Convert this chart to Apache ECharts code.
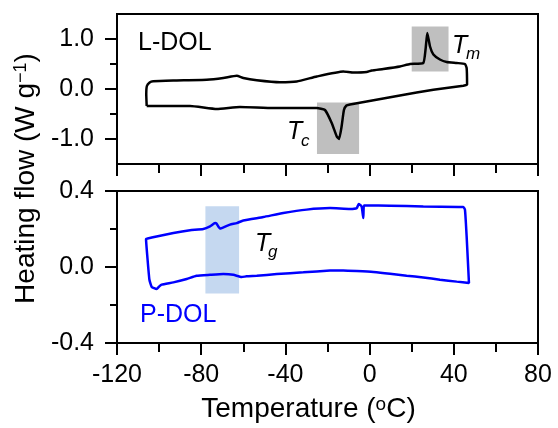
<!DOCTYPE html>
<html>
<head>
<meta charset="utf-8">
<script src="https://cdn.jsdelivr.net/npm/echarts@6/dist/echarts.min.js"></script>
<style>
  html, body { margin: 0; padding: 0; background: #ffffff; }
  #chart { width: 558px; height: 428px; }
</style>
</head>
<body>
<div id="chart"></div>
<script>
// Tick positions and labels
const tempTicks = [-120, -80, -40, 0, 40, 80];
const tempMinorTicks = [-100, -60, -20, 20, 60];
const ldolTicks = [-1, 0, 1];
const ldolMinorTicks = [-0.5, 0.5];
const pdolTicks = [-0.4, 0, 0.4];
const pdolMinorTicks = [-0.2, 0.2];

// L-DOL DSC loop: heating trace (upper), then cooling trace (lower)
const ldolTemp = [
  -105.9, -106.1, -105.8, -104.5, -102.8, -93.3, -77.4, -69.5, -63.1, -60.0,
  -53.6, -42.6, -34.6, -25.1, -12.5, -7.7, -1.4, 1.0, 6.5, 14.4,
  19.2, 25.5, 26.6, 27.4, 28.7, 30.3, 33.4, 36.6, 41.4, 45.3,
  46.1, 46.3, 44.5, 30.3, 14.4, -1.4, -9.3, -11.0, -12.2, -13.3,
  -14.5, -15.6, -18.0, -21.2, -25.1, -33.1, -45.7, -61.6, -72.6, -85.3,
  -105.9
];
const ldolFlow = [
  -0.34, -0.10, 0.06, 0.13, 0.155, 0.17, 0.185, 0.22, 0.265, 0.22,
  0.175, 0.135, 0.15, 0.25, 0.35, 0.33, 0.34, 0.37, 0.40, 0.45,
  0.50, 0.52, 0.80, 1.12, 0.85, 0.69, 0.59, 0.54, 0.52, 0.50,
  0.42, 0.09, 0.066, -0.015, -0.13, -0.25, -0.31, -0.33, -0.42, -0.75,
  -1.0, -0.95, -0.68, -0.42, -0.38, -0.38, -0.38, -0.36, -0.40, -0.34,
  -0.34
];

// P-DOL DSC loop: upper trace, then lower trace
const pdolTemp = [
  -105.9, -101.2, -93.2, -85.3, -79.0, -75.8, -73.4, -72.7, -71.1, -70.3,
  -66.3, -63.1, -60.0, -50.5, -41.0, -29.9, -18.8, -9.3, -6.1, -5.2,
  -3.8, -3.0, -2.7, -1.4, 9.7, 25.5, 42.2, 44.5, 45.3, 46.1,
  47.2, 41.4, 33.4, 25.5, 17.6, 9.7, 1.8, -6.1, -12.5, -18.8,
  -31.5, -44.1, -53.6, -58.4, -60.8, -64.7, -69.5, -75.8, -82.2, -86.9,
  -93.2, -98.8, -99.9, -101.2, -103.5, -104.6, -105.6, -106.2, -105.9
];
const pdolFlow = [
  0.149, 0.161, 0.179, 0.193, 0.200, 0.214, 0.231, 0.228, 0.202, 0.205,
  0.223, 0.231, 0.245, 0.263, 0.284, 0.302, 0.310, 0.305, 0.310, 0.331,
  0.319, 0.258, 0.324, 0.324, 0.323, 0.319, 0.316, 0.316, 0.302, 0.161,
  -0.084, -0.077, -0.067, -0.055, -0.046, -0.035, -0.026, -0.021, -0.018, -0.019,
  -0.028, -0.037, -0.046, -0.049, -0.053, -0.041, -0.037, -0.041, -0.046, -0.063,
  -0.081, -0.093, -0.102, -0.116, -0.105, -0.067, 0.056, 0.147, 0.149
];

// Shaded transition regions: [temperature, flow] corners
const meltRegion = [[20, 0.35], [37.5, 1.25]];
const crystRegion = [[-25, -0.27], [-5, -1.3]];
const glassRegion = [[-78, 0.32], [-62, -0.14]];

const FONT = '"Liberation Sans", Arial, Helvetica, sans-serif';
const zip = (xs, ys) => xs.map((x, i) => [x, ys[i]]);
const fmt = v => v.toFixed(1);

function xAxisPair(gridIndex, withLabels) {
  return [
    {
      type: 'value', gridIndex, min: -120, max: 80, position: 'bottom',
      axisLine: { show: true, onZero: false, lineStyle: { color: '#000', width: 2 } },
      axisTick: { show: true, customValues: tempTicks, length: 12, lineStyle: { color: '#000', width: 2 } },
      axisLabel: { show: withLabels, customValues: tempTicks, margin: 20, fontSize: 25, fontFamily: FONT, color: '#000' },
      splitLine: { show: false }
    },
    {
      type: 'value', gridIndex, min: -120, max: 80, position: 'bottom',
      axisLine: { show: false, onZero: false },
      axisTick: { show: true, customValues: tempMinorTicks, length: 9, lineStyle: { color: '#000', width: 2 } },
      axisLabel: { show: false },
      splitLine: { show: false }
    }
  ];
}

function yAxisPair(gridIndex, lo, hi, major, minor) {
  return [
    {
      type: 'value', gridIndex, min: lo, max: hi, position: 'left',
      axisLine: { show: true, onZero: false, lineStyle: { color: '#000', width: 2 } },
      axisTick: { show: true, customValues: major, length: 12, lineStyle: { color: '#000', width: 2 } },
      axisLabel: { show: true, customValues: major, formatter: fmt, margin: 23, fontSize: 25, fontFamily: FONT, color: '#000' },
      splitLine: { show: false }
    },
    {
      type: 'value', gridIndex, min: lo, max: hi, position: 'left',
      axisLine: { show: false, onZero: false },
      axisTick: { show: true, customValues: minor, length: 7, lineStyle: { color: '#000', width: 2 } },
      axisLabel: { show: false },
      splitLine: { show: false }
    }
  ];
}

const regionArea = (r) => [{ coord: r[0] }, { coord: r[1] }];

const chart = echarts.init(document.getElementById('chart'), null, { renderer: 'canvas' });
chart.setOption({
  animation: false,
  backgroundColor: '#ffffff',
  grid: [
    { left: 117, top: 14, width: 421, height: 150, show: true, borderColor: '#000', borderWidth: 2, containLabel: false },
    { left: 117, top: 191, width: 421, height: 152, show: true, borderColor: '#000', borderWidth: 2, containLabel: false }
  ],
  xAxis: [...xAxisPair(0, false), ...xAxisPair(1, true)],
  yAxis: [...yAxisPair(0, -1.5, 1.5, ldolTicks, ldolMinorTicks), ...yAxisPair(1, -0.4, 0.4, pdolTicks, pdolMinorTicks)],
  series: [
    {
      type: 'line', xAxisIndex: 0, yAxisIndex: 0, data: [], z: 1, silent: true,
      markArea: {
        silent: true,
        itemStyle: { color: '#bfbfbf', opacity: 1 },
        data: [regionArea(meltRegion), regionArea(crystRegion)]
      }
    },
    {
      name: 'L-DOL', type: 'line', xAxisIndex: 0, yAxisIndex: 0, z: 3,
      data: zip(ldolTemp, ldolFlow), showSymbol: false, smooth: 0.15,
      lineStyle: { color: '#000', width: 2.5 }
    },
    {
      type: 'line', xAxisIndex: 2, yAxisIndex: 2, data: [], z: 1, silent: true,
      markArea: {
        silent: true,
        itemStyle: { color: '#c5d8f0', opacity: 1 },
        data: [regionArea(glassRegion)]
      }
    },
    {
      name: 'P-DOL', type: 'line', xAxisIndex: 2, yAxisIndex: 2, z: 3,
      data: zip(pdolTemp, pdolFlow), showSymbol: false, smooth: 0.15,
      lineStyle: { color: '#0000ff', width: 2.5 }
    }
  ],
  graphic: [
    { type: 'text', x: 138, y: 43, style: { text: 'L-DOL', fontSize: 25, fontFamily: FONT, fill: '#000', align: 'left', verticalAlign: 'middle' } },
    { type: 'text', x: 140, y: 315, style: { text: 'P-DOL', fontSize: 25, fontFamily: FONT, fill: '#0000ff', align: 'left', verticalAlign: 'middle' } },
    { type: 'text', x: 452, y: 46, style: { text: 'T', fontSize: 25, fontStyle: 'italic', fontFamily: FONT, fill: '#000', align: 'left', verticalAlign: 'middle' } },
    { type: 'text', x: 466, y: 54, style: { text: 'm', fontSize: 17, fontStyle: 'italic', fontFamily: FONT, fill: '#000', align: 'left', verticalAlign: 'middle' } },
    { type: 'text', x: 287, y: 132, style: { text: 'T', fontSize: 25, fontStyle: 'italic', fontFamily: FONT, fill: '#000', align: 'left', verticalAlign: 'middle' } },
    { type: 'text', x: 301, y: 141, style: { text: 'c', fontSize: 17, fontStyle: 'italic', fontFamily: FONT, fill: '#000', align: 'left', verticalAlign: 'middle' } },
    { type: 'text', x: 255, y: 244, style: { text: 'T', fontSize: 25, fontStyle: 'italic', fontFamily: FONT, fill: '#000', align: 'left', verticalAlign: 'middle' } },
    { type: 'text', x: 268, y: 252, style: { text: 'g', fontSize: 17, fontStyle: 'italic', fontFamily: FONT, fill: '#000', align: 'left', verticalAlign: 'middle' } },
    {
      type: 'text', x: 308.5, y: 409,
      style: {
        text: 'Temperature ({sup|o}C)', fontSize: 28, lineHeight: 28, fontFamily: FONT, fill: '#000',
        align: 'center', verticalAlign: 'middle',
        rich: { sup: { fontSize: 19, lineHeight: 13, verticalAlign: 'top', fontFamily: FONT, fill: '#000' } }
      }
    },
    {
      type: 'text', x: 26.5, y: 178.5, rotation: Math.PI / 2,
      style: {
        text: 'Heating flow (W g{sup|\u22121})', fontSize: 28, lineHeight: 28, fontFamily: FONT, fill: '#000',
        align: 'center', verticalAlign: 'middle',
        rich: { sup: { fontSize: 18, lineHeight: 13, verticalAlign: 'top', fontFamily: FONT, fill: '#000' } }
      }
    }
  ]
});
</script>
</body>
</html>
